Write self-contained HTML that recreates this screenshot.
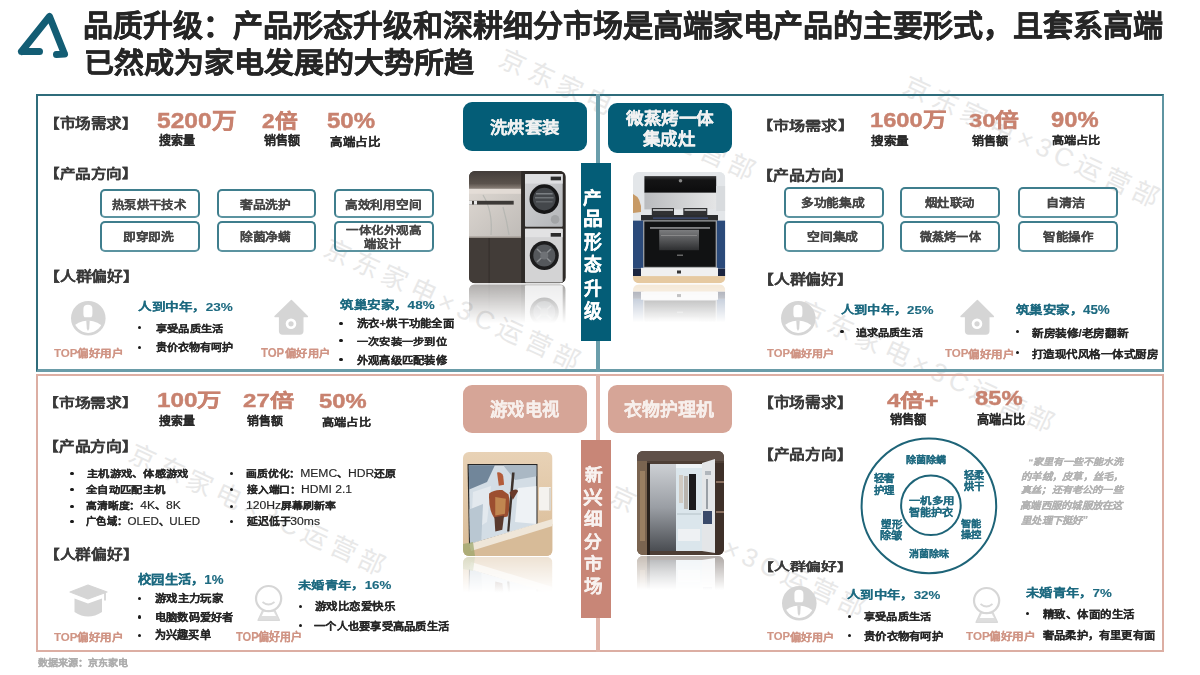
<!DOCTYPE html>
<html lang="zh-CN"><head><meta charset="utf-8"><style>
html,body{margin:0;padding:0;background:#fff;}
body{width:1200px;height:675px;position:relative;overflow:hidden;font-family:"Liberation Sans",sans-serif;}
.t{position:absolute;line-height:1;white-space:nowrap;transform-origin:0 0;}
.la{font-weight:400;font-size:1.12em;}
.wm{position:absolute;font-size:26px;line-height:26px;letter-spacing:5.3px;color:#e8e8e8;white-space:nowrap;transform-origin:13px 13px;transform:rotate(24.8deg);}
</style></head><body>
<svg style="position:absolute;left:0;top:0" width="100" height="90"><path d="M21.5 51.5 L49.5 16.5 L64.5 54 M21.5 51.5 L39.5 51.5 M64.5 54 L56.5 54.5" fill="none" stroke="#135d74" stroke-width="7" stroke-linecap="round" stroke-linejoin="round"/></svg>
<div class="wm" style="left:500px;top:49px">京东家电×3C运营部</div>
<div class="wm" style="left:904.4px;top:75.5px">京东家电×3C运营部</div>
<div class="wm" style="left:325px;top:239px">京东家电×3C运营部</div>
<div class="wm" style="left:799px;top:301px">京东家电×3C运营部</div>
<div class="wm" style="left:129.7px;top:444.3px">京东家电×3C运营部</div>
<div class="wm" style="left:609.5px;top:486px">京东家电×3C运营部</div>
<div style="position:absolute;left:36px;top:94px;width:1128px;height:278px;box-sizing:border-box;border:2px solid #2f6c7b;border-right-color:#5f95a2;border-bottom:3px solid #6a9ca8"></div>
<div style="position:absolute;left:595.5px;top:94px;width:4.5px;height:278px;background:#6b9eab"></div>
<div style="position:absolute;left:36px;top:374px;width:1128px;height:277.5px;box-sizing:border-box;border:2px solid #dcaea3;border-bottom:2.5px solid #dcaea3"></div>
<div style="position:absolute;left:595.5px;top:374px;width:4.5px;height:277.5px;background:#e0b4a9"></div>
<div style="position:absolute;left:100px;top:189px;width:99.5px;height:28.8px;box-sizing:border-box;border:2px solid #3f7e8d;border-bottom-color:#5b93a0;border-radius:5px"></div>
<div style="position:absolute;left:100px;top:221px;width:99.5px;height:31.4px;box-sizing:border-box;border:2px solid #3f7e8d;border-bottom-color:#5b93a0;border-radius:5px"></div>
<div style="position:absolute;left:217px;top:189px;width:99px;height:28.8px;box-sizing:border-box;border:2px solid #3f7e8d;border-bottom-color:#5b93a0;border-radius:5px"></div>
<div style="position:absolute;left:217px;top:221px;width:99px;height:31.4px;box-sizing:border-box;border:2px solid #3f7e8d;border-bottom-color:#5b93a0;border-radius:5px"></div>
<div style="position:absolute;left:334px;top:189px;width:100px;height:28.8px;box-sizing:border-box;border:2px solid #3f7e8d;border-bottom-color:#5b93a0;border-radius:5px"></div>
<div style="position:absolute;left:334px;top:221px;width:100px;height:31.4px;box-sizing:border-box;border:2px solid #3f7e8d;border-bottom-color:#5b93a0;border-radius:5px"></div>
<div style="position:absolute;left:784px;top:187.1px;width:100px;height:30.9px;box-sizing:border-box;border:2px solid #3f7e8d;border-bottom-color:#5b93a0;border-radius:5px"></div>
<div style="position:absolute;left:784px;top:221px;width:100px;height:30.9px;box-sizing:border-box;border:2px solid #3f7e8d;border-bottom-color:#5b93a0;border-radius:5px"></div>
<div style="position:absolute;left:900.3px;top:187.1px;width:99.7px;height:30.9px;box-sizing:border-box;border:2px solid #3f7e8d;border-bottom-color:#5b93a0;border-radius:5px"></div>
<div style="position:absolute;left:900.3px;top:221px;width:99.7px;height:30.9px;box-sizing:border-box;border:2px solid #3f7e8d;border-bottom-color:#5b93a0;border-radius:5px"></div>
<div style="position:absolute;left:1017.5px;top:187.1px;width:100.2px;height:30.9px;box-sizing:border-box;border:2px solid #3f7e8d;border-bottom-color:#5b93a0;border-radius:5px"></div>
<div style="position:absolute;left:1017.5px;top:221px;width:100.2px;height:30.9px;box-sizing:border-box;border:2px solid #3f7e8d;border-bottom-color:#5b93a0;border-radius:5px"></div>
<div style="position:absolute;left:463px;top:101.6px;width:124px;height:49.4px;background:#045d77;border-radius:9px"></div>
<div style="position:absolute;left:607.6px;top:103.2px;width:124.8px;height:49.6px;background:#045d77;border-radius:9px"></div>
<div style="position:absolute;left:463.3px;top:384.5px;width:123.5px;height:48.2px;background:#d6a597;border-radius:9px"></div>
<div style="position:absolute;left:608.2px;top:384.5px;width:123.5px;height:48.2px;background:#d6a597;border-radius:9px"></div>
<div style="position:absolute;left:581px;top:163.1px;width:30.2px;height:178.3px;background:#045d77"></div>
<div style="position:absolute;left:581.3px;top:440.4px;width:30.2px;height:177.7px;background:#c88677"></div>
<svg style="position:absolute;left:70.5px;top:300.5px" width="36" height="36" viewBox="0 0 36 36"><defs><clipPath id="pc"><circle cx="17.3" cy="17.3" r="14.6"/></clipPath></defs><circle cx="17.3" cy="17.3" r="17.3" fill="#d5d5d5"/><path d="M12.4 8 Q12.4 3.8 16.9 3.8 Q21.4 3.8 21.4 8 L21.4 13 Q21.4 15.3 20.3 16.3 L13.5 16.3 Q12.4 15.3 12.4 13 Z" fill="#fff"/><g clip-path="url(#pc)"><path d="M1 28 Q4 21 16.9 19.6 Q30 21 33 28 L33 36 L1 36 Z" fill="#fff"/></g><path d="M15.3 19.3 L18.7 19.3 L18.2 27.8 L17 30 L15.8 27.8 Z" fill="#d5d5d5"/></svg>
<svg style="position:absolute;left:273px;top:299px" width="36" height="38" viewBox="0 0 36 38"><path d="M18.4 1.4 L34.4 17.6 L29.8 17.6 L29.8 32 Q29.8 35 26.8 35 L9.6 35 Q6.6 35 6.6 32 L6.6 17.6 L2 17.6 Z" fill="#d5d5d5" stroke="#d5d5d5" stroke-width="1.4" stroke-linejoin="round"/><circle cx="18" cy="24.8" r="5.3" fill="#fff"/><circle cx="18" cy="24.8" r="2.6" fill="#d5d5d5"/></svg>
<svg style="position:absolute;left:780.5px;top:300.5px" width="36" height="36" viewBox="0 0 36 36"><defs><clipPath id="pc"><circle cx="17.3" cy="17.3" r="14.6"/></clipPath></defs><circle cx="17.3" cy="17.3" r="17.3" fill="#d5d5d5"/><path d="M12.4 8 Q12.4 3.8 16.9 3.8 Q21.4 3.8 21.4 8 L21.4 13 Q21.4 15.3 20.3 16.3 L13.5 16.3 Q12.4 15.3 12.4 13 Z" fill="#fff"/><g clip-path="url(#pc)"><path d="M1 28 Q4 21 16.9 19.6 Q30 21 33 28 L33 36 L1 36 Z" fill="#fff"/></g><path d="M15.3 19.3 L18.7 19.3 L18.2 27.8 L17 30 L15.8 27.8 Z" fill="#d5d5d5"/></svg>
<svg style="position:absolute;left:959px;top:299px" width="36" height="38" viewBox="0 0 36 38"><path d="M18.4 1.4 L34.4 17.6 L29.8 17.6 L29.8 32 Q29.8 35 26.8 35 L9.6 35 Q6.6 35 6.6 32 L6.6 17.6 L2 17.6 Z" fill="#d5d5d5" stroke="#d5d5d5" stroke-width="1.4" stroke-linejoin="round"/><circle cx="18" cy="24.8" r="5.3" fill="#fff"/><circle cx="18" cy="24.8" r="2.6" fill="#d5d5d5"/></svg>
<svg style="position:absolute;left:69px;top:584.3px" width="40" height="36" viewBox="0 0 40 36"><path d="M1 8 L19 1 L38 8 L19 15 Z" fill="#d5d5d5" stroke="#d5d5d5" stroke-width="1.2" stroke-linejoin="round"/><path d="M36 8.5 v8" stroke="#d5d5d5" stroke-width="1.8"/><path d="M5.5 14.5 L19 19.5 L33 14.5 L33 28 Q19 37 5.5 28 Z" fill="#d5d5d5"/></svg>
<svg style="position:absolute;left:254px;top:584px" width="32" height="38" viewBox="0 0 32 38"><path d="M8.5 26.5 L21 26.5 L25.5 36.3 L4 36.3 Z" fill="#dedede" stroke="#d9d9d9" stroke-width="1.2" stroke-linejoin="round"/><path d="M9.8 27.8 L19.8 27.8 L22 32 L7.8 32 Z" fill="#fff"/><circle cx="14.6" cy="14.6" r="12.6" fill="#fff" stroke="#d6d6d6" stroke-width="2.2"/><path d="M26 16 A11.5 11.5 0 0 1 9 25 A12.3 12.3 0 0 0 24.5 21 Z" fill="#dcdcdc"/><path d="M8.5 18 Q14.5 23 20.5 18" fill="none" stroke="#d9d9d9" stroke-width="1.7"/></svg>
<svg style="position:absolute;left:781.5px;top:586px" width="36" height="36" viewBox="0 0 36 36"><defs><clipPath id="pc"><circle cx="17.3" cy="17.3" r="14.6"/></clipPath></defs><circle cx="17.3" cy="17.3" r="17.3" fill="#d5d5d5"/><path d="M12.4 8 Q12.4 3.8 16.9 3.8 Q21.4 3.8 21.4 8 L21.4 13 Q21.4 15.3 20.3 16.3 L13.5 16.3 Q12.4 15.3 12.4 13 Z" fill="#fff"/><g clip-path="url(#pc)"><path d="M1 28 Q4 21 16.9 19.6 Q30 21 33 28 L33 36 L1 36 Z" fill="#fff"/></g><path d="M15.3 19.3 L18.7 19.3 L18.2 27.8 L17 30 L15.8 27.8 Z" fill="#d5d5d5"/></svg>
<svg style="position:absolute;left:972px;top:586px" width="32" height="38" viewBox="0 0 32 38"><path d="M8.5 26.5 L21 26.5 L25.5 36.3 L4 36.3 Z" fill="#dedede" stroke="#d9d9d9" stroke-width="1.2" stroke-linejoin="round"/><path d="M9.8 27.8 L19.8 27.8 L22 32 L7.8 32 Z" fill="#fff"/><circle cx="14.6" cy="14.6" r="12.6" fill="#fff" stroke="#d6d6d6" stroke-width="2.2"/><path d="M26 16 A11.5 11.5 0 0 1 9 25 A12.3 12.3 0 0 0 24.5 21 Z" fill="#dcdcdc"/><path d="M8.5 18 Q14.5 23 20.5 18" fill="none" stroke="#d9d9d9" stroke-width="1.7"/></svg>
<div style="position:absolute;left:138.2px;top:326.0px;width:3.2px;height:3.2px;background:#1a1a1a;border-radius:50%"></div>
<div style="position:absolute;left:138.2px;top:345.6px;width:3.2px;height:3.2px;background:#1a1a1a;border-radius:50%"></div>
<div style="position:absolute;left:339.4px;top:322.0px;width:3.2px;height:3.2px;background:#1a1a1a;border-radius:50%"></div>
<div style="position:absolute;left:339.4px;top:339.2px;width:3.2px;height:3.2px;background:#1a1a1a;border-radius:50%"></div>
<div style="position:absolute;left:339.4px;top:357.7px;width:3.2px;height:3.2px;background:#1a1a1a;border-radius:50%"></div>
<div style="position:absolute;left:840.4px;top:330.1px;width:3.2px;height:3.2px;background:#1a1a1a;border-radius:50%"></div>
<div style="position:absolute;left:1015.9px;top:330.0px;width:3.2px;height:3.2px;background:#1a1a1a;border-radius:50%"></div>
<div style="position:absolute;left:1015.9px;top:351.2px;width:3.2px;height:3.2px;background:#1a1a1a;border-radius:50%"></div>
<div style="position:absolute;left:70.4px;top:471.5px;width:3.2px;height:3.2px;background:#1a1a1a;border-radius:50%"></div>
<div style="position:absolute;left:70.4px;top:487.6px;width:3.2px;height:3.2px;background:#1a1a1a;border-radius:50%"></div>
<div style="position:absolute;left:70.4px;top:504.5px;width:3.2px;height:3.2px;background:#1a1a1a;border-radius:50%"></div>
<div style="position:absolute;left:70.4px;top:519.6px;width:3.2px;height:3.2px;background:#1a1a1a;border-radius:50%"></div>
<div style="position:absolute;left:229.9px;top:471.5px;width:3.2px;height:3.2px;background:#1a1a1a;border-radius:50%"></div>
<div style="position:absolute;left:229.9px;top:487.6px;width:3.2px;height:3.2px;background:#1a1a1a;border-radius:50%"></div>
<div style="position:absolute;left:229.9px;top:504.5px;width:3.2px;height:3.2px;background:#1a1a1a;border-radius:50%"></div>
<div style="position:absolute;left:229.9px;top:519.6px;width:3.2px;height:3.2px;background:#1a1a1a;border-radius:50%"></div>
<div style="position:absolute;left:138.0px;top:597.0px;width:3.2px;height:3.2px;background:#1a1a1a;border-radius:50%"></div>
<div style="position:absolute;left:138.0px;top:615.4px;width:3.2px;height:3.2px;background:#1a1a1a;border-radius:50%"></div>
<div style="position:absolute;left:138.0px;top:633.8px;width:3.2px;height:3.2px;background:#1a1a1a;border-radius:50%"></div>
<div style="position:absolute;left:298.6px;top:604.6px;width:3.2px;height:3.2px;background:#1a1a1a;border-radius:50%"></div>
<div style="position:absolute;left:298.6px;top:623.8px;width:3.2px;height:3.2px;background:#1a1a1a;border-radius:50%"></div>
<div style="position:absolute;left:847.9px;top:615.1px;width:3.2px;height:3.2px;background:#1a1a1a;border-radius:50%"></div>
<div style="position:absolute;left:847.9px;top:634.2px;width:3.2px;height:3.2px;background:#1a1a1a;border-radius:50%"></div>
<div style="position:absolute;left:1026.1px;top:611.9px;width:3.2px;height:3.2px;background:#1a1a1a;border-radius:50%"></div>
<svg style="position:absolute;left:850px;top:427px" width="160" height="160" viewBox="0 0 160 160"><circle cx="78.9" cy="78.9" r="67.3" fill="none" stroke="#1e6478" stroke-width="2"/><circle cx="80.9" cy="78.3" r="29.8" fill="none" stroke="#1e6478" stroke-width="2"/></svg>
<svg style="position:absolute;left:469.3px;top:171.2px;overflow:visible" width="96.7" height="160.3" viewBox="0 0 96.7 160.3"><defs><clipPath id="cw"><rect x="0" y="0" width="96.7" height="112.3" rx="6" ry="6"/></clipPath>
<linearGradient id="gw" x1="0" y1="0" x2="0" y2="1"><stop offset="0" stop-color="#fff" stop-opacity="0.42"/><stop offset="0.85" stop-color="#fff" stop-opacity="0"/></linearGradient>
<mask id="mw"><rect x="0" y="113.3" width="96.7" height="46" fill="url(#gw)"/></mask>
<g id="iw" clip-path="url(#cw)">
<linearGradient id="wtop" x1="0" y1="0" x2="0" y2="1"><stop offset="0" stop-color="#433d3a"/><stop offset="0.7" stop-color="#5a524c"/><stop offset="1" stop-color="#8d837b"/></linearGradient>
<linearGradient id="wnic" x1="0" y1="0" x2="1" y2="1"><stop offset="0" stop-color="#ddd7d1"/><stop offset="1" stop-color="#bfbbb7"/></linearGradient>
<linearGradient id="wdry" x1="0" y1="0" x2="1" y2="1"><stop offset="0" stop-color="#d2d3d5"/><stop offset="1" stop-color="#b3b5b8"/></linearGradient>
<rect x="0" y="0" width="96.7" height="112.3" fill="#3f3a36"/>
<rect x="0" y="0" width="52.2" height="17.8" fill="url(#wtop)"/>
<rect x="0" y="17.8" width="52.2" height="49" fill="url(#wnic)"/>
<rect x="0" y="17.8" width="52.2" height="5" fill="#e6dfd8" opacity="0.8"/>
<path d="M14 24 Q24 40 22 64 M34 36 Q38 50 40 64" stroke="#aeb0ac" stroke-width="1.2" fill="none" opacity="0.7"/>
<rect x="0" y="29.8" width="44.7" height="3.8" fill="#3c3936"/>
<rect x="0" y="29.8" width="3" height="3.8" fill="#e8e8e8"/><rect x="5" y="29.8" width="3" height="3.8" fill="#e8e8e8"/>
<rect x="0" y="65.5" width="52.2" height="1.6" fill="#9b948d"/>
<rect x="0" y="67" width="52.2" height="45.3" fill="#423c38"/>
<rect x="19.7" y="67" width="0.8" height="45.3" fill="#2f2a27"/>
<rect x="52.2" y="0" width="44.5" height="112.3" fill="#2e2a27"/>
<rect x="56" y="3.1" width="37.7" height="52.7" fill="url(#wdry)" rx="1"/>
<rect x="56" y="3.1" width="37.7" height="9.5" fill="#dedfe1"/>
<rect x="81.7" y="5.6" width="10.3" height="3.7" fill="#2c2c2c"/>
<circle cx="75.3" cy="28.1" r="14.8" fill="#161617"/>
<circle cx="75.3" cy="28.1" r="11.3" fill="#44474b"/>
<rect x="67" y="22" width="16.6" height="1.5" fill="#8a8e92" opacity="0.8"/>
<rect x="66" y="26" width="18.6" height="1.5" fill="#7a7e82" opacity="0.8"/>
<rect x="67" y="30" width="16.6" height="1.5" fill="#6a6e72" opacity="0.8"/>
<circle cx="86.1" cy="48.4" r="4.3" fill="#a2a4a6"/>
<rect x="56" y="57.7" width="37.7" height="53.7" fill="#d3d3d4" rx="1"/>
<rect x="56" y="57.7" width="37.7" height="8.5" fill="#e2e2e3"/>
<rect x="81.7" y="62" width="10.3" height="3.7" fill="#2c2c2c"/>
<circle cx="75.3" cy="84.5" r="14.5" fill="#1c1c1d"/>
<circle cx="75.3" cy="84.5" r="11" fill="#55585c"/>
<path d="M68 78 L82 91 M82 78 L68 91" stroke="#8a8d90" stroke-width="1.5"/>
<circle cx="75.3" cy="84.5" r="4" fill="#6f7276"/>
</g></defs>
<use href="#iw"/>
<g mask="url(#mw)"><use href="#iw" transform="translate(0,225.6) scale(1,-1)"/></g></svg>
<svg style="position:absolute;left:633.3px;top:172px;overflow:visible" width="92.3" height="158.3" viewBox="0 0 92.3 158.3"><defs><clipPath id="ck"><rect x="0" y="0" width="92.3" height="111.3" rx="6" ry="6"/></clipPath>
<linearGradient id="gk" x1="0" y1="0" x2="0" y2="1"><stop offset="0" stop-color="#fff" stop-opacity="0.42"/><stop offset="0.85" stop-color="#fff" stop-opacity="0"/></linearGradient>
<mask id="mk"><rect x="0" y="112.3" width="92.3" height="45" fill="url(#gk)"/></mask>
<g id="ik" clip-path="url(#ck)">
<linearGradient id="khood" x1="0" y1="0" x2="0" y2="1"><stop offset="0" stop-color="#3a3a3b"/><stop offset="0.25" stop-color="#141415"/><stop offset="1" stop-color="#0c0c0d"/></linearGradient>
<linearGradient id="kback" x1="0" y1="0" x2="1" y2="0"><stop offset="0" stop-color="#b9bbbe"/><stop offset="1" stop-color="#e4e5e6"/></linearGradient>
<linearGradient id="kwin" x1="0" y1="0" x2="0" y2="1"><stop offset="0" stop-color="#7c7d7f"/><stop offset="1" stop-color="#2e2f31"/></linearGradient>
<rect x="0" y="0" width="92.3" height="111.3" fill="#eceef0"/>
<rect x="0" y="0" width="92.3" height="48" fill="#e3e6e9"/>
<path d="M0 22 Q9 26 8 40 L0 41 Z" fill="#c79a66"/>
<rect x="11.4" y="4.1" width="71.8" height="16.7" fill="url(#khood)"/>
<circle cx="47.5" cy="8.7" r="1.8" fill="#888"/>
<rect x="11.4" y="20.8" width="71.8" height="16.6" fill="url(#kback)"/>
<rect x="83.2" y="14" width="9.1" height="25" fill="#d8dbde"/>
<rect x="18.8" y="36" width="22.2" height="7" fill="#303133"/>
<rect x="50.3" y="36" width="24" height="7" fill="#303133"/>
<rect x="20" y="37" width="20" height="2" fill="#b0b2b4"/>
<rect x="51.5" y="37" width="21.6" height="2" fill="#b0b2b4"/>
<rect x="8" y="43" width="77" height="5.6" fill="#2b2d30"/>
<rect x="20" y="45.5" width="55" height="1.2" fill="#4a5fa0" opacity="0.7"/>
<rect x="0" y="48.6" width="10.4" height="48" fill="#2b4a7a"/>
<rect x="83.6" y="48.6" width="8.7" height="48" fill="#2b4a7a"/>
<rect x="0" y="96.7" width="10.4" height="7.4" fill="#1b2540"/>
<rect x="83.6" y="96.7" width="8.7" height="7.4" fill="#1b2540"/>
<rect x="10.4" y="48.6" width="73.2" height="47.2" fill="#8e8f91"/>
<rect x="11.4" y="49.6" width="71.2" height="45.2" fill="#111213"/>
<rect x="17" y="55.2" width="60" height="1.5" fill="#9a9b9d"/>
<rect x="26.2" y="57.8" width="39.8" height="20.4" fill="url(#kwin)"/>
<rect x="28" y="63" width="36" height="1" fill="#a0a0a0" opacity="0.6"/>
<rect x="44" y="82.5" width="6" height="1.5" fill="#666"/>
<rect x="8" y="95.8" width="77" height="8.3" fill="#f0f0f0"/>
<rect x="44" y="98.5" width="4" height="3" fill="#333"/>
<rect x="0" y="104.1" width="92.3" height="7.2" fill="#e6c9a0"/>
</g></defs>
<use href="#ik"/>
<g mask="url(#mk)"><use href="#ik" transform="translate(0,223.6) scale(1,-1)"/></g></svg>
<svg style="position:absolute;left:463.4px;top:452.2px;overflow:visible" width="89.5" height="148" viewBox="0 0 89.5 148"><defs><clipPath id="ct"><rect x="0" y="0" width="89.5" height="104" rx="6" ry="6"/></clipPath>
<linearGradient id="gt" x1="0" y1="0" x2="0" y2="1"><stop offset="0" stop-color="#fff" stop-opacity="0.42"/><stop offset="0.85" stop-color="#fff" stop-opacity="0"/></linearGradient>
<mask id="mt"><rect x="0" y="105" width="89.5" height="42" fill="url(#gt)"/></mask>
<g id="it" clip-path="url(#ct)">
<linearGradient id="tvbg" x1="0" y1="0" x2="0" y2="1"><stop offset="0" stop-color="#e8d2b6"/><stop offset="1" stop-color="#d9bb96"/></linearGradient>
<clipPath id="tvs"><path d="M5.8 13.3 L73.3 13.3 L73.3 72.5 L7 91.8 Z"/></clipPath>
<rect x="0" y="0" width="89.5" height="104" fill="url(#tvbg)"/>
<path d="M4.5 12 L74.5 12 L74.5 73.5 L6 93.5 Z" fill="#262626"/>
<g clip-path="url(#tvs)">
<rect x="0" y="0" width="89.5" height="104" fill="#d3dde5"/>
<path d="M0 13 L32 13 L24 30 L0 40 Z" fill="#71869a"/><path d="M10 40 L28 34 L24 70 L8 80 Z" fill="#e3e9ee"/>
<path d="M40 13 L75 13 L75 24 L52 28 Z" fill="#aab8c4"/>
<path d="M0 60 L20 52 L18 95 L0 95 Z" fill="#b9c7d2"/>
<path d="M55 36 L75 34 L75 72 L52 70 Z" fill="#eef2f5"/>
<g transform="translate(5,9) scale(0.88)"><path d="M33 13 Q38 12 40 17 L41 27 L35 28 Z" fill="#b35c3a"/>
<path d="M24 37 Q30 32 39 33 L46 38 Q49 50 45 63 L31 66 Q23 57 24 37 Z" fill="#9c4e30"/>
<path d="M31 41 L43 43 L42 60 L31 62 Z" fill="#c08650"/>
<path d="M30 64 L41 62 L39 78 L31 80 Z" fill="#5a3a2e"/>
<path d="M50 13 L53 13 L47 80 L44.5 80 Z" fill="#3d322c"/>
<path d="M47 36 Q54 30 57 34 L51 44 Z" fill="#6a3a2a"/>
</g></g>
<path d="M0 100 L89.5 72 L89.5 104 L0 104 Z" fill="#d7bb98"/>
<path d="M6 92 L89.5 67 L89.5 74 L8 99 Z" fill="#efe6d8"/>
<rect x="76" y="35" width="12" height="23.5" fill="#f4f2ee" rx="1"/>
<rect x="86" y="36" width="2" height="22" fill="#d9d6d0"/>
<path d="M0 92 L10 90 L12 104 L0 104 Z" fill="#9aa56a" opacity="0.7"/>
</g></defs>
<use href="#it"/>
<g mask="url(#mt)"><use href="#it" transform="translate(0,209) scale(1,-1)"/></g></svg>
<svg style="position:absolute;left:637px;top:450.7px;overflow:visible" width="87" height="146" viewBox="0 0 87 146"><defs><clipPath id="cd"><rect x="0" y="0" width="87" height="104" rx="6" ry="6"/></clipPath>
<linearGradient id="gd" x1="0" y1="0" x2="0" y2="1"><stop offset="0" stop-color="#fff" stop-opacity="0.42"/><stop offset="0.85" stop-color="#fff" stop-opacity="0"/></linearGradient>
<mask id="md"><rect x="0" y="105" width="87" height="40" fill="url(#gd)"/></mask>
<g id="id" clip-path="url(#cd)">
<rect x="0" y="0" width="87" height="104" fill="#4d3e35"/>
<rect x="0" y="0" width="87" height="10" fill="#5f5048"/>
<rect x="0" y="10" width="10" height="94" fill="#7a6450"/>
<rect x="3" y="20" width="5" height="70" fill="#a88a6a" opacity="0.7"/>
<rect x="10" y="12" width="3" height="92" fill="#2a221d"/>
<linearGradient id="mir" x1="0" y1="0" x2="0" y2="1"><stop offset="0" stop-color="#cdd0d4"/><stop offset="0.5" stop-color="#9a9ea4"/><stop offset="1" stop-color="#4a4d52"/></linearGradient>
<rect x="13" y="13" width="26" height="87" fill="url(#mir)"/>
<rect x="39" y="13" width="26" height="87" fill="#dbe6ec"/>
<rect x="39" y="13" width="26" height="4" fill="#eef3f6"/>
<rect x="47" y="25" width="4" height="33" fill="#b8b4ae"/>
<rect x="52" y="23" width="7" height="36" fill="#1a1a1c"/>
<rect x="42" y="24" width="4" height="28" fill="#d0cac2"/>
<rect x="40" y="62" width="24" height="2" fill="#c8d4da"/>
<rect x="41" y="78" width="22" height="12" fill="#eef1f3"/>
<path d="M65 12 L78 8 L78 102 L65 100 Z" fill="#e4e6e8"/>
<rect x="68" y="20" width="6" height="4" fill="#b0b6bc"/>
<rect x="69" y="28" width="2" height="30" fill="#9aa0a6"/>
<rect x="66" y="60" width="9" height="13" fill="#3a4a6a"/>
<rect x="78" y="12" width="9" height="92" fill="#3e3029"/>
<rect x="79" y="30" width="8" height="2" fill="#8a7060"/>
<rect x="79" y="60" width="8" height="2" fill="#8a7060"/>
</g></defs>
<use href="#id"/>
<g mask="url(#md)"><use href="#id" transform="translate(0,209) scale(1,-1)"/></g></svg>
<div class="t" style="left:83.0px;top:11.3px;font-size:30px;color:#262626;font-weight:700;-webkit-text-stroke:0.45px #262626;transform:scale(1.0,0.98)">品质升级：产品形态升级和深耕细分市场是高端家电产品的主要形式，且套系高端</div>
<div class="t" style="left:83.65px;top:48.75px;font-size:30px;color:#262626;font-weight:700;-webkit-text-stroke:0.45px #262626;transform:scale(0.999,0.95)">已然成为家电发展的大势所趋</div>
<div class="t" style="left:44.25px;top:117.35px;font-size:16px;color:#3a3a3a;font-weight:700;-webkit-text-stroke:0.15px #3a3a3a;transform:scale(0.975,0.831)">【市场需求】</div>
<div class="t" style="left:44.0px;top:167.0px;font-size:16px;color:#3a3a3a;font-weight:700;-webkit-text-stroke:0.15px #3a3a3a;transform:scale(0.974,0.812)">【产品方向】</div>
<div class="t" style="left:44.0px;top:269.75px;font-size:16px;color:#3a3a3a;font-weight:700;-webkit-text-stroke:0.15px #3a3a3a;transform:scale(0.987,0.844)">【人群偏好】</div>
<div class="t" style="left:756.75px;top:119.55px;font-size:16px;color:#3a3a3a;font-weight:700;-webkit-text-stroke:0.15px #3a3a3a;transform:scale(1.007,0.806)">【市场需求】</div>
<div class="t" style="left:756.7px;top:168.95px;font-size:16px;color:#3a3a3a;font-weight:700;-webkit-text-stroke:0.15px #3a3a3a;transform:scale(0.997,0.831)">【产品方向】</div>
<div class="t" style="left:757.5px;top:273.15px;font-size:16px;color:#3a3a3a;font-weight:700;-webkit-text-stroke:0.15px #3a3a3a;transform:scale(0.987,0.831)">【人群偏好】</div>
<div class="t" style="left:43.1px;top:396.8px;font-size:16px;color:#3a3a3a;font-weight:700;-webkit-text-stroke:0.15px #3a3a3a;transform:scale(0.987,0.788)">【市场需求】</div>
<div class="t" style="left:43.0px;top:440.35px;font-size:16px;color:#3a3a3a;font-weight:700;-webkit-text-stroke:0.15px #3a3a3a;transform:scale(0.987,0.819)">【产品方向】</div>
<div class="t" style="left:43.55px;top:547.55px;font-size:16px;color:#3a3a3a;font-weight:700;-webkit-text-stroke:0.15px #3a3a3a;transform:scale(0.983,0.819)">【人群偏好】</div>
<div class="t" style="left:758.0px;top:396.2px;font-size:16px;color:#3a3a3a;font-weight:700;-webkit-text-stroke:0.15px #3a3a3a;transform:scale(0.982,0.875)">【市场需求】</div>
<div class="t" style="left:758.0px;top:447.5px;font-size:16px;color:#3a3a3a;font-weight:700;-webkit-text-stroke:0.15px #3a3a3a;transform:scale(0.982,0.875)">【产品方向】</div>
<div class="t" style="left:757.5px;top:562.25px;font-size:16px;color:#3a3a3a;font-weight:700;-webkit-text-stroke:0.15px #3a3a3a;transform:scale(0.987,0.7)">【人群偏好】</div>
<div class="t" style="left:156.7px;top:109.75px;font-size:24px;color:#c8826f;font-weight:700;-webkit-text-stroke:0.5px #c8826f;transform:scale(1.021,0.886)">5200万</div>
<div class="t" style="left:262.0px;top:112.25px;font-size:22px;color:#c8826f;font-weight:700;-webkit-text-stroke:0.5px #c8826f;transform:scale(1.03,0.886)">2倍</div>
<div class="t" style="left:327.0px;top:109.7px;font-size:24px;color:#c8826f;font-weight:700;-webkit-text-stroke:0.5px #c8826f;transform:scale(1.0,0.918)">50%</div>
<div class="t" style="left:159.0px;top:135.4px;font-size:12px;color:#2b2b2b;font-weight:700;-webkit-text-stroke:0.15px #2b2b2b;transform:scale(1.0,0.999)">搜索量</div>
<div class="t" style="left:264.0px;top:135.4px;font-size:12px;color:#2b2b2b;font-weight:700;-webkit-text-stroke:0.15px #2b2b2b;transform:scale(1.0,0.999)">销售额</div>
<div class="t" style="left:330.0px;top:136.5px;font-size:12px;color:#2b2b2b;font-weight:700;-webkit-text-stroke:0.15px #2b2b2b;transform:scale(1.042,0.9)">高端占比</div>
<div class="t" style="left:869.95px;top:109.95px;font-size:24px;color:#c8826f;font-weight:700;-webkit-text-stroke:0.5px #c8826f;transform:scale(0.988,0.859)">1600万</div>
<div class="t" style="left:969.25px;top:111.45px;font-size:24px;color:#c8826f;font-weight:700;-webkit-text-stroke:0.5px #c8826f;transform:scale(0.99,0.788)">30倍</div>
<div class="t" style="left:1051.25px;top:109.3px;font-size:24px;color:#c8826f;font-weight:700;-webkit-text-stroke:0.5px #c8826f;transform:scale(0.989,0.918)">90%</div>
<div class="t" style="left:870.75px;top:135.5px;font-size:12px;color:#2b2b2b;font-weight:700;-webkit-text-stroke:0.15px #2b2b2b;transform:scale(1.042,0.917)">搜索量</div>
<div class="t" style="left:971.6px;top:135.5px;font-size:12px;color:#2b2b2b;font-weight:700;-webkit-text-stroke:0.15px #2b2b2b;transform:scale(1.0,0.917)">销售额</div>
<div class="t" style="left:1051.7px;top:136.45px;font-size:12px;color:#2b2b2b;font-weight:700;-webkit-text-stroke:0.15px #2b2b2b;transform:scale(1.012,0.842)">高端占比</div>
<div class="t" style="left:156.95px;top:389.6px;font-size:24px;color:#c8826f;font-weight:700;-webkit-text-stroke:0.5px #c8826f;transform:scale(1.011,0.827)">100万</div>
<div class="t" style="left:243.2px;top:392.1px;font-size:24px;color:#c8826f;font-weight:700;-webkit-text-stroke:0.5px #c8826f;transform:scale(1.004,0.758)">27倍</div>
<div class="t" style="left:319.3px;top:390.8px;font-size:23px;color:#c8826f;font-weight:700;-webkit-text-stroke:0.5px #c8826f;transform:scale(1.032,0.918)">50%</div>
<div class="t" style="left:158.8px;top:415.25px;font-size:12px;color:#2b2b2b;font-weight:700;-webkit-text-stroke:0.15px #2b2b2b;transform:scale(0.989,0.958)">搜索量</div>
<div class="t" style="left:246.8px;top:415.25px;font-size:12px;color:#2b2b2b;font-weight:700;-webkit-text-stroke:0.15px #2b2b2b;transform:scale(0.989,0.958)">销售额</div>
<div class="t" style="left:321.65px;top:417.5px;font-size:12px;color:#2b2b2b;font-weight:700;-webkit-text-stroke:0.15px #2b2b2b;transform:scale(1.015,0.833)">高端占比</div>
<div class="t" style="left:886.75px;top:390.85px;font-size:24px;color:#c8826f;font-weight:700;-webkit-text-stroke:0.5px #c8826f;transform:scale(1.002,0.779)">4倍+</div>
<div class="t" style="left:974.55px;top:388.1px;font-size:23px;color:#c8826f;font-weight:700;-webkit-text-stroke:0.5px #c8826f;transform:scale(1.034,0.894)">85%</div>
<div class="t" style="left:889.7px;top:413.75px;font-size:12px;color:#2b2b2b;font-weight:700;-webkit-text-stroke:0.15px #2b2b2b;transform:scale(1.017,1.008)">销售额</div>
<div class="t" style="left:977.25px;top:413.75px;font-size:12px;color:#2b2b2b;font-weight:700;-webkit-text-stroke:0.15px #2b2b2b;transform:scale(1.01,1.008)">高端占比</div>
<div class="t" style="left:112.0px;top:200.0px;font-size:12px;color:#454545;font-weight:700;-webkit-text-stroke:0.15px #454545;transform:scale(1.028,0.917)">热泵烘干技术</div>
<div class="t" style="left:123.0px;top:230.7px;font-size:13px;color:#454545;font-weight:700;-webkit-text-stroke:0.15px #454545;transform:scale(0.98,0.892)">即穿即洗</div>
<div class="t" style="left:240.0px;top:200.0px;font-size:13px;color:#454545;font-weight:700;-webkit-text-stroke:0.15px #454545;transform:scale(0.98,0.846)">奢品洗护</div>
<div class="t" style="left:239.5px;top:230.7px;font-size:13px;color:#454545;font-weight:700;-webkit-text-stroke:0.15px #454545;transform:scale(0.98,0.892)">除菌净螨</div>
<div class="t" style="left:345.1px;top:200.1px;font-size:13px;color:#454545;font-weight:700;-webkit-text-stroke:0.15px #454545;transform:scale(0.977,0.862)">高效利用空间</div>
<div class="t" style="left:345.6px;top:224.7px;font-size:13px;color:#454545;font-weight:700;-webkit-text-stroke:0.15px #454545;transform:scale(0.964,0.815)">一体化外观高</div>
<div class="t" style="left:364.3px;top:239.15px;font-size:12px;color:#454545;font-weight:700;-webkit-text-stroke:0.15px #454545;transform:scale(1.022,0.942)">端设计</div>
<div class="t" style="left:800.9px;top:197.35px;font-size:13px;color:#454545;font-weight:700;-webkit-text-stroke:0.15px #454545;transform:scale(0.978,0.9)">多功能集成</div>
<div class="t" style="left:925.15px;top:197.35px;font-size:12px;color:#454545;font-weight:700;-webkit-text-stroke:0.15px #454545;transform:scale(1.027,0.975)">烟灶联动</div>
<div class="t" style="left:1046.3px;top:197.35px;font-size:13px;color:#454545;font-weight:700;-webkit-text-stroke:0.15px #454545;transform:scale(1.0,0.9)">自清洁</div>
<div class="t" style="left:806.9px;top:231.3px;font-size:13px;color:#454545;font-weight:700;-webkit-text-stroke:0.15px #454545;transform:scale(0.984,0.892)">空间集成</div>
<div class="t" style="left:919.6px;top:231.3px;font-size:12px;color:#454545;font-weight:700;-webkit-text-stroke:0.15px #454545;transform:scale(1.013,0.967)">微蒸烤一体</div>
<div class="t" style="left:1043.0px;top:231.3px;font-size:12px;color:#454545;font-weight:700;-webkit-text-stroke:0.15px #454545;transform:scale(1.042,0.967)">智能操作</div>
<div class="t" style="left:53.55px;top:347.8px;font-size:12px;color:#d09585;font-weight:700;-webkit-text-stroke:0.15px #d09585;transform:scale(0.962,0.933)">TOP</div>
<div class="t" style="left:76.6px;top:349.3px;font-size:12px;color:#d09585;font-weight:700;-webkit-text-stroke:0.15px #d09585;transform:scale(0.965,0.833)">偏好用户</div>
<div class="t" style="left:261.3px;top:347.45px;font-size:11px;color:#d09585;font-weight:700;-webkit-text-stroke:0.15px #d09585;transform:scale(1.036,1.087)">TOP</div>
<div class="t" style="left:284.5px;top:349.45px;font-size:11px;color:#d09585;font-weight:700;-webkit-text-stroke:0.15px #d09585;transform:scale(1.023,0.936)">偏好用户</div>
<div class="t" style="left:766.75px;top:349.25px;font-size:11px;color:#d09585;font-weight:700;-webkit-text-stroke:0.15px #d09585;transform:scale(1.023,0.938)">TOP</div>
<div class="t" style="left:790.1px;top:350.25px;font-size:11px;color:#d09585;font-weight:700;-webkit-text-stroke:0.15px #d09585;transform:scale(1.009,0.827)">偏好用户</div>
<div class="t" style="left:944.7px;top:347.15px;font-size:12px;color:#d09585;font-weight:700;-webkit-text-stroke:0.15px #d09585;transform:scale(0.958,0.967)">TOP</div>
<div class="t" style="left:967.6px;top:348.65px;font-size:12px;color:#d09585;font-weight:700;-webkit-text-stroke:0.15px #d09585;transform:scale(0.961,0.858)">偏好用户</div>
<div class="t" style="left:53.7px;top:631.5px;font-size:12px;color:#d09585;font-weight:700;-webkit-text-stroke:0.15px #d09585;transform:scale(0.958,0.933)">TOP</div>
<div class="t" style="left:76.75px;top:633.0px;font-size:12px;color:#d09585;font-weight:700;-webkit-text-stroke:0.15px #d09585;transform:scale(0.963,0.833)">偏好用户</div>
<div class="t" style="left:235.55px;top:630.6px;font-size:11px;color:#d09585;font-weight:700;-webkit-text-stroke:0.15px #d09585;transform:scale(1.014,1.15)">TOP</div>
<div class="t" style="left:257.95px;top:632.1px;font-size:11px;color:#d09585;font-weight:700;-webkit-text-stroke:0.15px #d09585;transform:scale(0.998,1.0)">偏好用户</div>
<div class="t" style="left:766.5px;top:631.15px;font-size:11px;color:#d09585;font-weight:700;-webkit-text-stroke:0.15px #d09585;transform:scale(1.027,1.037)">TOP</div>
<div class="t" style="left:790.0px;top:632.65px;font-size:11px;color:#d09585;font-weight:700;-webkit-text-stroke:0.15px #d09585;transform:scale(1.014,0.9)">偏好用户</div>
<div class="t" style="left:965.9px;top:630.85px;font-size:12px;color:#d09585;font-weight:700;background:#fff;-webkit-text-stroke:0.15px #d09585;transform:scale(0.967,0.9)">TOP</div>
<div class="t" style="left:989.1px;top:632.35px;font-size:12px;color:#d09585;font-weight:700;background:#fff;-webkit-text-stroke:0.15px #d09585;transform:scale(0.97,0.808)">偏好用户</div>
<div class="t" style="left:137.65px;top:301.6px;font-size:14px;color:#1d6a80;font-weight:700;-webkit-text-stroke:0.15px #1d6a80;transform:scale(0.968,0.786)">人到中年，23%</div>
<div class="t" style="left:339.85px;top:298.55px;font-size:14px;color:#1d6a80;font-weight:700;-webkit-text-stroke:0.15px #1d6a80;transform:scale(0.966,0.821)">筑巢安家，48%</div>
<div class="t" style="left:840.55px;top:303.85px;font-size:13px;color:#1d6a80;font-weight:700;-webkit-text-stroke:0.15px #1d6a80;transform:scale(1.016,0.869)">人到中年，25%</div>
<div class="t" style="left:1016.35px;top:304.45px;font-size:13px;color:#1d6a80;font-weight:700;-webkit-text-stroke:0.15px #1d6a80;transform:scale(1.03,0.915)">筑巢安家，45%</div>
<div class="t" style="left:138.4px;top:574.4px;font-size:13px;color:#1d6a80;font-weight:700;-webkit-text-stroke:0.15px #1d6a80;transform:scale(1.021,0.938)">校园生活，1%</div>
<div class="t" style="left:298.3px;top:579.7px;font-size:13px;color:#1d6a80;font-weight:700;-webkit-text-stroke:0.15px #1d6a80;transform:scale(1.026,0.815)">未婚青年，16%</div>
<div class="t" style="left:847.15px;top:590.1px;font-size:13px;color:#1d6a80;font-weight:700;-webkit-text-stroke:0.15px #1d6a80;transform:scale(1.025,0.831)">人到中年，32%</div>
<div class="t" style="left:1025.8px;top:587.5px;font-size:13px;color:#1d6a80;font-weight:700;-webkit-text-stroke:0.15px #1d6a80;transform:scale(1.024,0.831)">未婚青年，7%</div>
<div class="t" style="left:155.75px;top:323.85px;font-size:11px;color:#262626;font-weight:700;-webkit-text-stroke:0.15px #262626;transform:scale(1.02,0.864)">享受品质生活</div>
<div class="t" style="left:155.8px;top:343.3px;font-size:11px;color:#262626;font-weight:700;-webkit-text-stroke:0.15px #262626;transform:scale(1.005,0.909)">贵价衣物有呵护</div>
<div class="t" style="left:357.1px;top:319.45px;font-size:11px;color:#262626;font-weight:700;-webkit-text-stroke:0.15px #262626;transform:scale(1.028,0.918)">洗衣+烘干功能全面</div>
<div class="t" style="left:357.2px;top:336.9px;font-size:11px;color:#262626;font-weight:700;-webkit-text-stroke:0.15px #262626;transform:scale(1.02,0.836)">一次安装一步到位</div>
<div class="t" style="left:357.2px;top:354.5px;font-size:11px;color:#262626;font-weight:700;-webkit-text-stroke:0.15px #262626;transform:scale(1.02,0.964)">外观高级匹配装修</div>
<div class="t" style="left:856.15px;top:327.75px;font-size:11px;color:#262626;font-weight:700;-webkit-text-stroke:0.15px #262626;transform:scale(1.011,0.864)">追求品质生活</div>
<div class="t" style="left:1032.0px;top:327.65px;font-size:12px;color:#262626;font-weight:700;-webkit-text-stroke:0.15px #262626;transform:scale(0.97,0.858)">新房装修/老房翻新</div>
<div class="t" style="left:1031.75px;top:349.5px;font-size:12px;color:#262626;font-weight:700;-webkit-text-stroke:0.15px #262626;transform:scale(0.958,0.833)">打造现代风格一体式厨房</div>
<div class="t" style="left:86.5px;top:468.85px;font-size:11px;color:#262626;font-weight:700;-webkit-text-stroke:0.15px #262626;transform:scale(1.026,0.845)">主机游戏、体感游戏</div>
<div class="t" style="left:86.4px;top:484.95px;font-size:11px;color:#262626;font-weight:700;-webkit-text-stroke:0.15px #262626;transform:scale(1.031,0.845)">全自动匹配主机</div>
<div class="t" style="left:86.1px;top:500.0px;font-size:11px;color:#262626;font-weight:700;-webkit-text-stroke:0.15px #262626;transform:scale(0.987,0.855)">高清晰度：<span class="la">4K</span>、<span class="la">8K</span></div>
<div class="t" style="left:86.1px;top:516.25px;font-size:10px;color:#262626;font-weight:700;-webkit-text-stroke:0.15px #262626;transform:scale(1.035,1.05)">广色域：<span class="la">OLED</span>、<span class="la">ULED</span></div>
<div class="t" style="left:246.05px;top:468.85px;font-size:11px;color:#262626;font-weight:700;-webkit-text-stroke:0.15px #262626;transform:scale(0.985,0.845)">画质优化：<span class="la">MEMC</span>、<span class="la">HDR</span>还原</div>
<div class="t" style="left:247.2px;top:484.95px;font-size:11px;color:#262626;font-weight:700;-webkit-text-stroke:0.15px #262626;transform:scale(0.981,0.845)">接入端口：<span class="la">HDMI 2.1</span></div>
<div class="t" style="left:246.15px;top:500.0px;font-size:11px;color:#262626;font-weight:700;-webkit-text-stroke:0.15px #262626;transform:scale(0.988,0.855)"><span class="la">120Hz</span>屏幕刷新率</div>
<div class="t" style="left:246.65px;top:515.25px;font-size:11px;color:#262626;font-weight:700;-webkit-text-stroke:0.15px #262626;transform:scale(0.985,0.955)">延迟低于<span class="la">30ms</span></div>
<div class="t" style="left:155.45px;top:594.4px;font-size:11px;color:#262626;font-weight:700;-webkit-text-stroke:0.15px #262626;transform:scale(1.032,0.909)">游戏主力玩家</div>
<div class="t" style="left:155.2px;top:612.9px;font-size:11px;color:#262626;font-weight:700;-webkit-text-stroke:0.15px #262626;transform:scale(1.021,0.927)">电脑数码爱好者</div>
<div class="t" style="left:154.8px;top:630.25px;font-size:11px;color:#262626;font-weight:700;-webkit-text-stroke:0.15px #262626;transform:scale(1.015,0.991)">为兴趣买单</div>
<div class="t" style="left:314.55px;top:602.4px;font-size:12px;color:#262626;font-weight:700;-webkit-text-stroke:0.15px #262626;transform:scale(0.958,0.833)">游戏比恋爱快乐</div>
<div class="t" style="left:314.4px;top:620.85px;font-size:11px;color:#262626;font-weight:700;-webkit-text-stroke:0.15px #262626;transform:scale(1.024,0.955)">一个人也要享受高品质生活</div>
<div class="t" style="left:863.75px;top:612.0px;font-size:11px;color:#262626;font-weight:700;-webkit-text-stroke:0.15px #262626;transform:scale(1.017,0.873)">享受品质生活</div>
<div class="t" style="left:864.25px;top:631.05px;font-size:11px;color:#262626;font-weight:700;-webkit-text-stroke:0.15px #262626;transform:scale(1.027,0.955)">贵价衣物有呵护</div>
<div class="t" style="left:1043.0px;top:609.95px;font-size:11px;color:#262626;font-weight:700;-webkit-text-stroke:0.15px #262626;transform:scale(1.039,0.9)">精致、体面的生活</div>
<div class="t" style="left:1042.8px;top:630.8px;font-size:11px;color:#262626;font-weight:700;-webkit-text-stroke:0.15px #262626;transform:scale(1.018,0.927)">奢品柔护，有里更有面</div>
<div class="t" style="left:38.25px;top:657.75px;font-size:10px;color:#adadad;font-weight:700;-webkit-text-stroke:0.15px #adadad;transform:scale(1.006,0.95)">数据来源：京东家电</div>
<div class="t" style="left:908.55px;top:497.15px;font-size:11px;color:#1f6a80;font-weight:700;-webkit-text-stroke:0.15px #1f6a80;transform:scale(1.035,0.809)">一机多用</div>
<div class="t" style="left:908.55px;top:507.7px;font-size:11px;color:#1f6a80;font-weight:700;-webkit-text-stroke:0.15px #1f6a80;transform:scale(1.011,0.909)">智能护衣</div>
<div class="t" style="left:906.4px;top:455.15px;font-size:10px;color:#1f6a80;font-weight:700;-webkit-text-stroke:0.15px #1f6a80;transform:scale(1.01,0.95)">除菌除螨</div>
<div class="t" style="left:873.55px;top:474.3px;font-size:10px;color:#1f6a80;font-weight:700;-webkit-text-stroke:0.15px #1f6a80;transform:scale(1.035,1.0)">轻奢</div>
<div class="t" style="left:873.55px;top:485.9px;font-size:10px;color:#1f6a80;font-weight:700;-webkit-text-stroke:0.15px #1f6a80;transform:scale(1.035,1.0)">护理</div>
<div class="t" style="left:964.1px;top:471.0px;font-size:10px;color:#1f6a80;font-weight:700;-webkit-text-stroke:0.15px #1f6a80;transform:scale(1.02,1.0)">轻柔</div>
<div class="t" style="left:964.1px;top:482.1px;font-size:10px;color:#1f6a80;font-weight:700;-webkit-text-stroke:0.15px #1f6a80;transform:scale(1.02,1.0)">烘干</div>
<div class="t" style="left:880.65px;top:519.9px;font-size:11px;color:#1f6a80;font-weight:700;-webkit-text-stroke:0.15px #1f6a80;transform:scale(0.959,0.909)">塑形</div>
<div class="t" style="left:879.65px;top:531.0px;font-size:11px;color:#1f6a80;font-weight:700;-webkit-text-stroke:0.15px #1f6a80;transform:scale(1.005,0.909)">除皱</div>
<div class="t" style="left:960.9px;top:519.15px;font-size:10px;color:#1f6a80;font-weight:700;-webkit-text-stroke:0.15px #1f6a80;transform:scale(1.03,0.95)">智能</div>
<div class="t" style="left:960.9px;top:529.65px;font-size:10px;color:#1f6a80;font-weight:700;-webkit-text-stroke:0.15px #1f6a80;transform:scale(1.03,0.95)">操控</div>
<div class="t" style="left:909.4px;top:549.15px;font-size:10px;color:#1f6a80;font-weight:700;-webkit-text-stroke:0.15px #1f6a80;transform:scale(1.0,0.95)">消菌除味</div>
<div class="t" style="left:1027.85px;top:458.15px;font-size:10px;color:#b2b2b2;font-weight:700;font-style:italic;-webkit-text-stroke:0.15px #b2b2b2;transform:scale(1.003,0.93)">“家里有一些不能水洗</div>
<div class="t" style="left:1020.5px;top:472.0px;font-size:10px;color:#b2b2b2;font-weight:700;font-style:italic;-webkit-text-stroke:0.15px #b2b2b2;transform:scale(1.026,1.0)">的羊绒，皮草，丝毛，</div>
<div class="t" style="left:1020.65px;top:486.0px;font-size:10px;color:#b2b2b2;font-weight:700;font-style:italic;-webkit-text-stroke:0.15px #b2b2b2;transform:scale(1.017,0.909)">真丝；还有老公的一些</div>
<div class="t" style="left:1020.15px;top:501.3px;font-size:10px;color:#b2b2b2;font-weight:700;font-style:italic;-webkit-text-stroke:0.15px #b2b2b2;transform:scale(1.027,1.0)">高端西服的城服放在这</div>
<div class="t" style="left:1021.15px;top:516.0px;font-size:10px;color:#b2b2b2;font-weight:700;font-style:italic;-webkit-text-stroke:0.15px #b2b2b2;transform:scale(1.026,1.0)">里处理下挺好”</div>
<div class="t" style="left:490.35px;top:119.85px;font-size:17px;color:#f2f2f2;font-weight:700;-webkit-text-stroke:0.15px #f2f2f2;transform:scale(1.019,0.959)">洗烘套装</div>
<div class="t" style="left:625.65px;top:110.35px;font-size:18px;color:#f2f2f2;font-weight:700;-webkit-text-stroke:0.15px #f2f2f2;transform:scale(0.979,0.906)">微蒸烤一体</div>
<div class="t" style="left:643.45px;top:131.0px;font-size:18px;color:#f2f2f2;font-weight:700;-webkit-text-stroke:0.15px #f2f2f2;transform:scale(0.972,0.944)">集成灶</div>
<div class="t" style="left:490.35px;top:400.9px;font-size:18px;color:#f7efec;font-weight:700;-webkit-text-stroke:0.15px #f7efec;transform:scale(0.963,0.989)">游戏电视</div>
<div class="t" style="left:624.0px;top:400.9px;font-size:18px;color:#f7efec;font-weight:700;-webkit-text-stroke:0.15px #f7efec;transform:scale(0.998,0.989)">衣物护理机</div>
<div class="t" style="left:583.3px;top:189.75px;font-size:19px;color:#ffffff;font-weight:700;-webkit-text-stroke:0.15px #ffffff;transform:scale(0.989,0.879)">产</div>
<div class="t" style="left:582.8px;top:209.4px;font-size:20px;color:#ffffff;font-weight:700;-webkit-text-stroke:0.15px #ffffff;transform:scale(0.989,0.937)">品</div>
<div class="t" style="left:584.3px;top:232.65px;font-size:18px;color:#ffffff;font-weight:700;-webkit-text-stroke:0.15px #ffffff;transform:scale(0.989,1.05)">形</div>
<div class="t" style="left:583.8px;top:256.45px;font-size:19px;color:#ffffff;font-weight:700;-webkit-text-stroke:0.15px #ffffff;transform:scale(0.937,0.932)">态</div>
<div class="t" style="left:583.8px;top:279.8px;font-size:19px;color:#ffffff;font-weight:700;-webkit-text-stroke:0.15px #ffffff;transform:scale(0.937,0.937)">升</div>
<div class="t" style="left:583.8px;top:302.05px;font-size:18px;color:#ffffff;font-weight:700;-webkit-text-stroke:0.15px #ffffff;transform:scale(0.989,1.05)">级</div>
<div class="t" style="left:584.65px;top:465.85px;font-size:18px;color:#f8f2f0;font-weight:700;-webkit-text-stroke:0.15px #f8f2f0;transform:scale(0.983,0.972)">新</div>
<div class="t" style="left:583.15px;top:487.65px;font-size:19px;color:#f8f2f0;font-weight:700;-webkit-text-stroke:0.15px #f8f2f0;transform:scale(1.041,0.972)">兴</div>
<div class="t" style="left:584.15px;top:510.45px;font-size:19px;color:#f8f2f0;font-weight:700;-webkit-text-stroke:0.15px #f8f2f0;transform:scale(0.983,0.921)">细</div>
<div class="t" style="left:584.15px;top:532.75px;font-size:19px;color:#f8f2f0;font-weight:700;-webkit-text-stroke:0.15px #f8f2f0;transform:scale(0.932,0.921)">分</div>
<div class="t" style="left:583.65px;top:555.05px;font-size:19px;color:#f8f2f0;font-weight:700;-webkit-text-stroke:0.15px #f8f2f0;transform:scale(0.983,0.921)">市</div>
<div class="t" style="left:584.15px;top:577.35px;font-size:19px;color:#f8f2f0;font-weight:700;-webkit-text-stroke:0.15px #f8f2f0;transform:scale(0.983,0.921)">场</div>
</body></html>
